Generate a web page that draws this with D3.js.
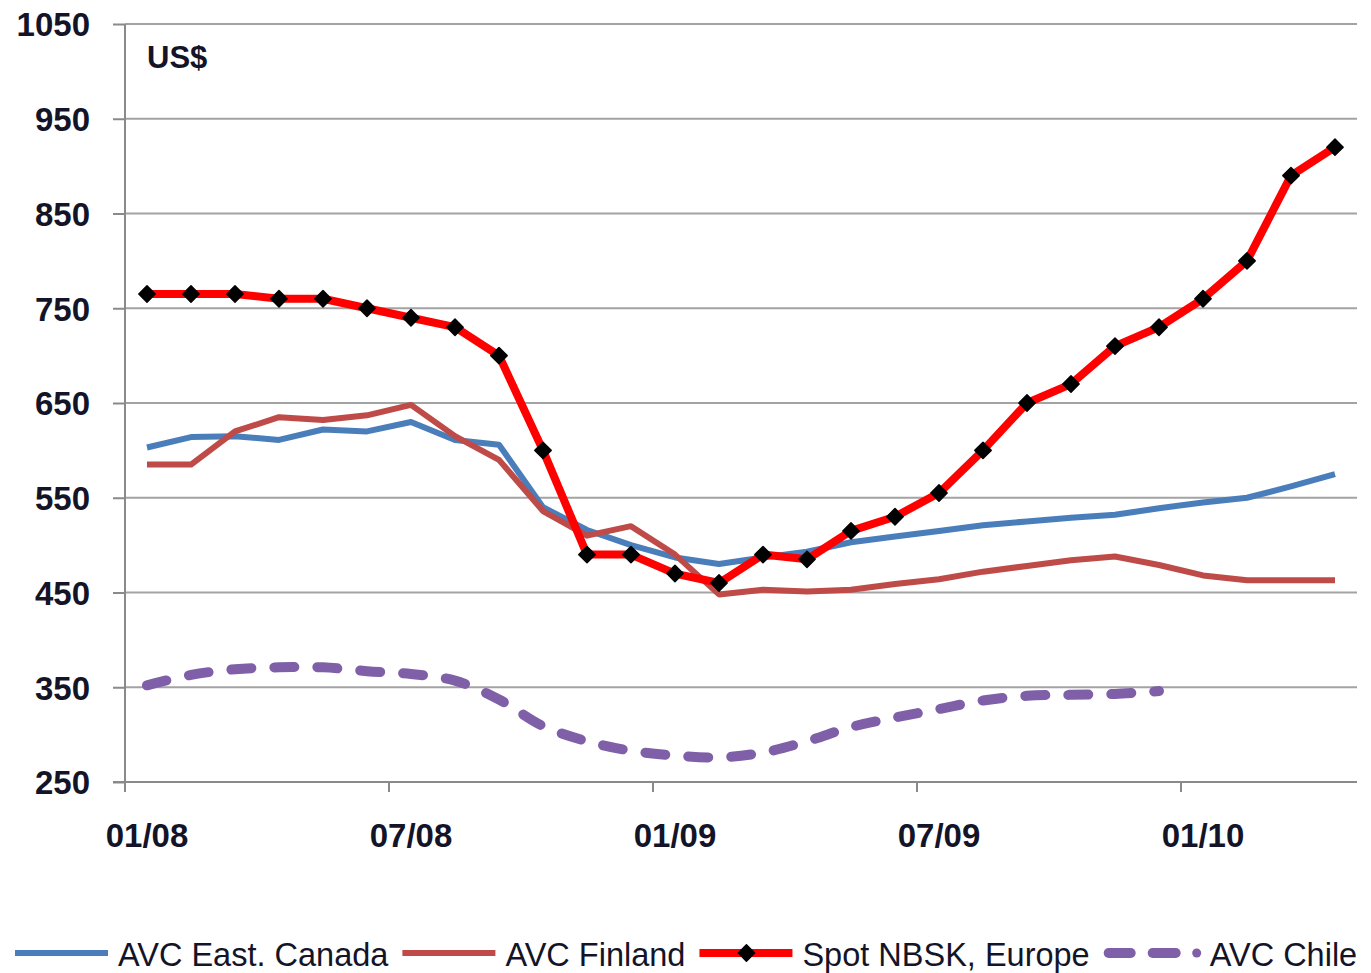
<!DOCTYPE html>
<html>
<head>
<meta charset="utf-8">
<script src="https://cdn.jsdelivr.net/npm/d3@7/dist/d3.min.js"></script>
<style>
  html, body { margin: 0; padding: 0; background: #fff; }
  svg { display: block; }
</style>
</head>
<body>
<svg id="chart" width="1371" height="973"></svg>
<script>
// ---- Data (monthly, 01/2008 .. 04/2010) ----
const months = ["01/08","02/08","03/08","04/08","05/08","06/08","07/08","08/08","09/08","10/08","11/08","12/08",
                "01/09","02/09","03/09","04/09","05/09","06/09","07/09","08/09","09/09","10/09","11/09","12/09",
                "01/10","02/10","03/10","04/10"];
const xTickLabels = ["01/08","07/08","01/09","07/09","01/10"];
const yTicks = [250, 350, 450, 550, 650, 750, 850, 950, 1050];

const avcEastCanada = [603, 614, 615, 611, 622, 620, 630, 611, 606, 540, 516, 500, 487, 480, 487, 493, 503, 509, 515, 521, 525, 529, 532, 539, 545, 550, 562, 575];
const avcFinland    = [585, 585, 620, 635, 632, 637, 648, 615, 590, 536, 510, 520, 490, 448, 453, 451, 453, 459, 464, 472, 478, 484, 488, 479, 468, 463, 463, 463];
const spotNBSK      = [765, 765, 765, 760, 760, 750, 740, 730, 700, 600, 490, 490, 470, 460, 490, 485, 515, 530, 555, 600, 650, 670, 710, 730, 760, 800, 890, 920];
const avcChile      = [352, 363, 369, 371, 371, 367, 364, 357, 337, 309, 293, 283, 278, 276, 281, 293, 308, 318, 327, 336, 341, 342, 343, 346, null, null, null, null];

const seriesNames = ["AVC East. Canada", "AVC Finland", "Spot NBSK, Europe", "AVC Chile"];

// ---- Layout ----
const svg = d3.select("#chart");
const plot = { left: 125, right: 1357, top: 24, bottom: 782 };

const x = d3.scaleBand().domain(months).range([plot.left, plot.right]).paddingInner(0).paddingOuter(0);
const y = d3.scaleLinear().domain([250, 1050]).range([plot.bottom, plot.top]);
const cx = m => x(m) + x.bandwidth() / 2;

const colors = { canada: "#4a7ebb", finland: "#be4b48", spot: "#ff0000", chile: "#7f5fa8" };
const textColor = "#141428";
const font = "Liberation Sans, Arial, sans-serif";

// Gridlines
svg.append("g").selectAll("line").data(yTicks.filter(v => v !== 250)).join("line")
  .attr("x1", plot.left).attr("x2", plot.right)
  .attr("y1", d => y(d)).attr("y2", d => y(d))
  .attr("stroke", "#a3a3a3").attr("stroke-width", 2);

// Y axis
const yAxis = d3.axisLeft(y).tickValues(yTicks).tickSize(12).tickPadding(23).tickFormat(d3.format("d"));
const gy = svg.append("g").attr("transform", `translate(${plot.left},0)`).call(yAxis);
gy.select(".domain").remove();
gy.selectAll(".tick line").attr("stroke", "#8a8a8a").attr("stroke-width", 2);
gy.selectAll(".tick text")
  .attr("font-family", font)
  .attr("font-weight", "bold").attr("font-size", 33).attr("fill", textColor)
  .attr("dy", "0.36em");
svg.append("line").attr("x1", plot.left).attr("x2", plot.left)
  .attr("y1", plot.top).attr("y2", plot.bottom + 10)
  .attr("stroke", "#8a8a8a").attr("stroke-width", 2);

// X axis
const xAxis = d3.axisBottom(x).tickValues(xTickLabels).tickSize(0).tickPadding(42);
const gx = svg.append("g").attr("transform", `translate(0,${plot.bottom})`).call(xAxis);
gx.select(".domain").remove();
gx.selectAll(".tick text")
  .attr("font-family", font)
  .attr("font-weight", "bold").attr("font-size", 33).attr("fill", textColor);
svg.append("line").attr("x1", plot.left - 12).attr("x2", plot.right)
  .attr("y1", plot.bottom).attr("y2", plot.bottom)
  .attr("stroke", "#8a8a8a").attr("stroke-width", 2);
// x tick marks at band boundaries
svg.append("g").selectAll("line").data(xTickLabels).join("line")
  .attr("x1", d => x(d)).attr("x2", d => x(d))
  .attr("y1", plot.bottom).attr("y2", plot.bottom + 10)
  .attr("stroke", "#8a8a8a").attr("stroke-width", 2);

// US$ label
svg.append("text").attr("x", 147).attr("y", 68).text("US$")
  .attr("font-family", font)
  .attr("font-weight", "bold").attr("font-size", 31).attr("fill", textColor);

// Lines
const lineLinear = d3.line().defined(d => d.v != null).x(d => cx(d.m)).y(d => y(d.v));
const lineSmooth = d3.line().defined(d => d.v != null).x(d => cx(d.m)).y(d => y(d.v)).curve(d3.curveCatmullRom.alpha(0.5));
const toPts = arr => months.map((m, i) => ({ m, v: arr[i] }));

svg.append("path").datum(toPts(avcEastCanada)).attr("d", lineLinear)
  .attr("fill", "none").attr("stroke", colors.canada).attr("stroke-width", 6).attr("stroke-linejoin", "round");
svg.append("path").datum(toPts(avcFinland)).attr("d", lineLinear)
  .attr("fill", "none").attr("stroke", colors.finland).attr("stroke-width", 6).attr("stroke-linejoin", "round");
svg.append("path").datum(toPts(spotNBSK)).attr("d", lineLinear)
  .attr("fill", "none").attr("stroke", colors.spot).attr("stroke-width", 8).attr("stroke-linejoin", "round");
const diamond = d3.symbol().type(d3.symbolDiamond2).size(170);
svg.append("g").selectAll("path").data(toPts(spotNBSK)).join("path")
  .attr("transform", d => `translate(${cx(d.m)},${y(d.v)})`)
  .attr("d", diamond).attr("fill", "#000").attr("stroke", "#000").attr("stroke-width", 1.5).attr("stroke-linejoin", "round");
svg.append("path").datum(toPts(avcChile).filter(d => d.v != null)).attr("d", lineSmooth)
  .attr("fill", "none").attr("stroke", colors.chile).attr("stroke-width", 10)
  .attr("stroke-linecap", "round").attr("stroke-dasharray", "20 23");

// Legend
const legendY = 953;
const legend = svg.append("g");
let lx = 15;
const legendItems = [
  { name: seriesNames[0], color: colors.canada, w: 6 },
  { name: seriesNames[1], color: colors.finland, w: 6 },
  { name: seriesNames[2], color: colors.spot, w: 8, marker: true },
  { name: seriesNames[3], color: colors.chile, w: 10, dash: true }
];
legendItems.forEach(it => {
  const g = legend.append("g");
  let textX = lx + 103;
  if (it.dash) {
    [[lx + 5, lx + 27], [lx + 49, lx + 72]].forEach(([a, b]) => {
      g.append("line").attr("x1", a).attr("x2", b).attr("y1", legendY).attr("y2", legendY)
        .attr("stroke", it.color).attr("stroke-width", 10).attr("stroke-linecap", "round");
    });
    g.append("circle").attr("cx", lx + 93).attr("cy", legendY).attr("r", 4.5).attr("fill", it.color);
    textX = lx + 106;
  } else {
    g.append("line").attr("x1", lx).attr("x2", lx + 93).attr("y1", legendY).attr("y2", legendY)
      .attr("stroke", it.color).attr("stroke-width", it.w);
  }
  if (it.marker) {
    g.append("path").attr("transform", `translate(${lx + 47},${legendY})`).attr("d", diamond)
      .attr("fill", "#000").attr("stroke", "#000").attr("stroke-width", 1.5).attr("stroke-linejoin", "round");
  }
  const t = g.append("text").attr("x", textX).attr("y", legendY + 13).text(it.name)
    .attr("font-family", font).attr("font-size", 32.5)
    .attr("fill", textColor);
  lx = textX + t.node().getComputedTextLength() + 14;
});
</script>
</body>
</html>
